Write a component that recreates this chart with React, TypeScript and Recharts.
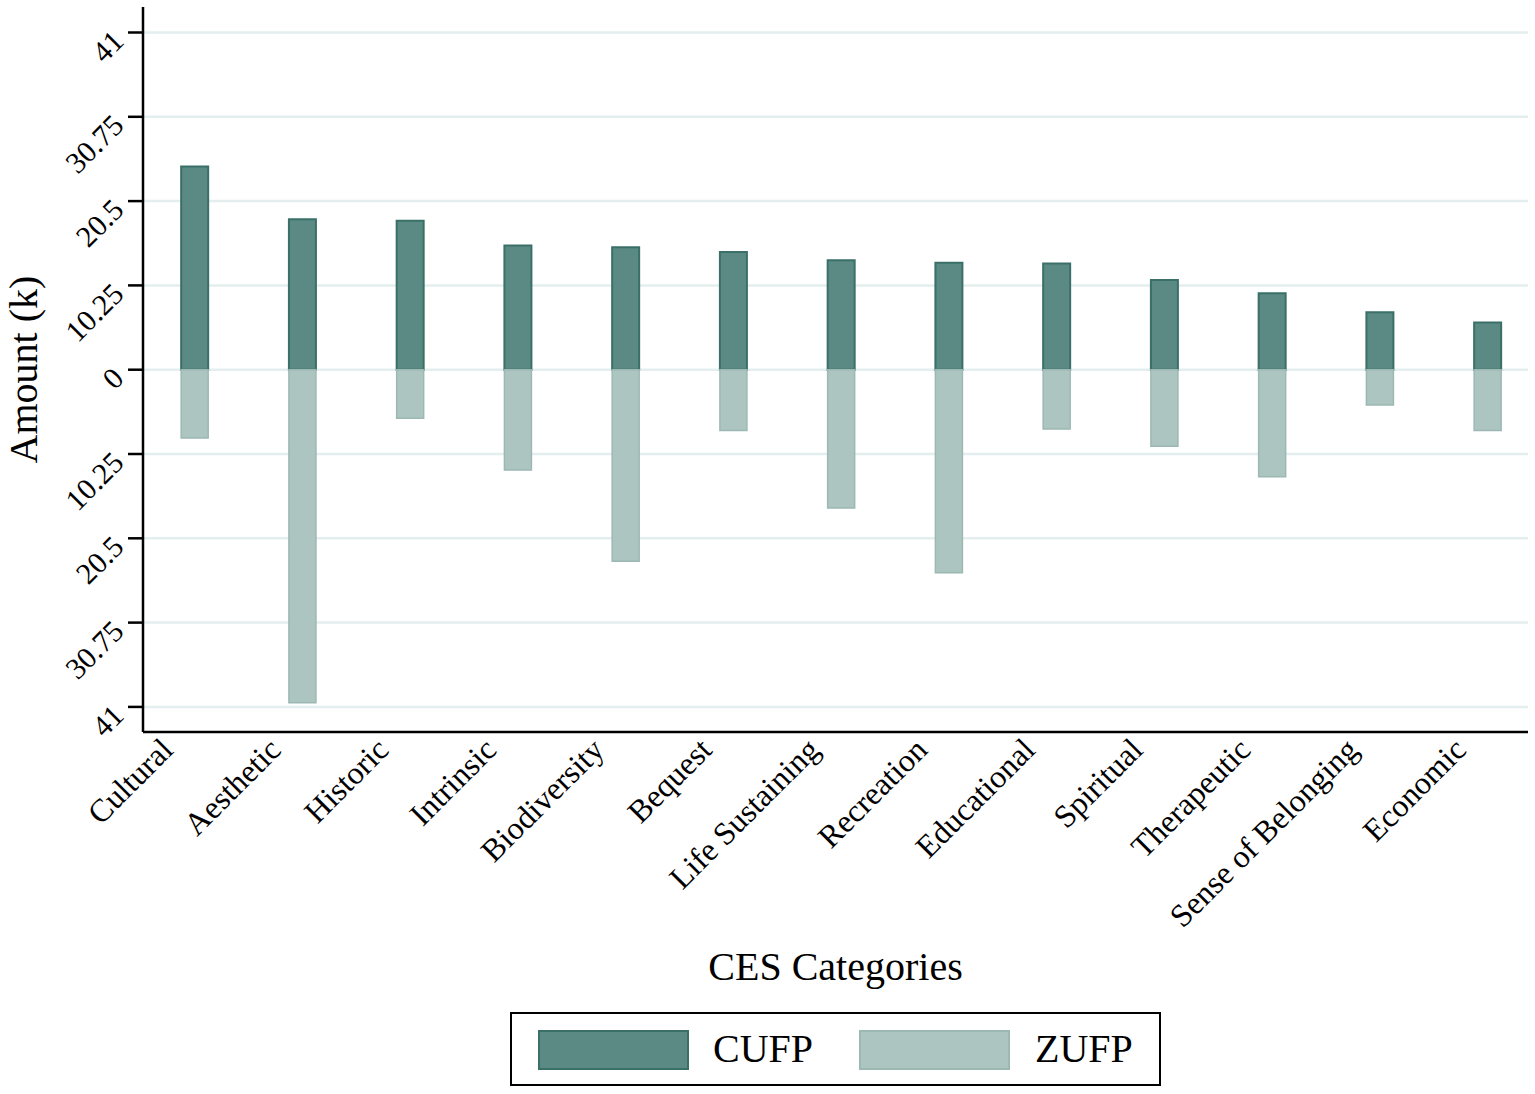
import { BarChart, Bar, XAxis, YAxis, CartesianGrid, Legend, Label } from 'recharts'

const categories = [
  'Cultural',
  'Aesthetic',
  'Historic',
  'Intrinsic',
  'Biodiversity',
  'Bequest',
  'Life Sustaining',
  'Recreation',
  'Educational',
  'Spiritual',
  'Therapeutic',
  'Sense of Belonging',
  'Economic',
]
// CUFP above zero, ZUFP below (thousands)
const cufp = [24.7, 18.3, 18.1, 15.1, 14.9, 14.3, 13.3, 13.0, 12.9, 10.9, 9.3, 7.0, 5.75]
const zufp = [-8.3, -40.5, -5.9, -12.2, -23.3, -7.4, -16.8, -24.7, -7.2, -9.3, -13.0, -4.3, -7.4]
const yTicks = [-41, -30.75, -20.5, -10.25, 0, 10.25, 20.5, 30.75, 41]

const DARK = '#5a8a83'
const DARK_EDGE = '#3a7068'
const LIGHT = '#adc5c1'
const LIGHT_EDGE = '#9cb8b3'
const FONT = '"Liberation Serif", "Times New Roman", serif'

const data = categories.map((name, i) => ({
  idx: i,
  name,
  CUFP: cufp[i],
  ZUFP: zufp[i],
}))

function XTick({ x, y, payload }: any) {
  const tx = x - 28
  const ty = y - 5
  return (
    <text
      x={tx}
      y={ty}
      transform={`rotate(-45, ${tx}, ${ty})`}
      textAnchor="end"
      dominantBaseline="central"
      fontFamily={FONT}
      fontSize={32}
      fill="#000"
    >
      {categories[payload.value]}
    </text>
  )
}

function YTick({ x, y, payload }: any) {
  const tx = x - 10
  const ty = y + 3
  return (
    <text
      x={tx}
      y={ty}
      transform={`rotate(-45, ${tx}, ${ty})`}
      textAnchor="end"
      dominantBaseline="central"
      fontFamily={FONT}
      fontSize={30}
      fill="#000"
    >
      {String(Math.abs(payload.value))}
    </text>
  )
}

function LegendBox() {
  const swatch = (fill: string, edge: string, left: number) => (
    <div
      style={{
        position: 'absolute',
        left,
        top: 16,
        width: 147,
        height: 36,
        background: fill,
        border: `2px solid ${edge}`,
      }}
    />
  )
  const label = (text: string, left: number) => (
    <div
      style={{
        position: 'absolute',
        left,
        top: 11,
        fontFamily: FONT,
        fontSize: 40,
        lineHeight: '48px',
        color: '#000',
      }}
    >
      {text}
    </div>
  )
  return (
    <div
      style={{
        position: 'relative',
        width: 647,
        height: 70,
        border: '2px solid #000',
        background: '#fff',
      }}
    >
      {swatch(DARK, DARK_EDGE, 26)}
      {label('CUFP', 201)}
      {swatch(LIGHT, LIGHT_EDGE, 347)}
      {label('ZUFP', 523)}
    </div>
  )
}

export default function App() {
  return (
    <div style={{ position: 'absolute', left: 0, top: 0, background: '#fff' }}>
      <BarChart
        width={1535}
        height={1094}
        data={data}
        stackOffset="sign"
        margin={{ top: 7, right: 7, left: 0, bottom: 0 }}
      >
        <CartesianGrid
          vertical={false}
          horizontal
          stroke="#e4eeee"
          strokeWidth={2.5}
          horizontalValues={yTicks}
        />
        <XAxis
          dataKey="idx"
          type="number"
          domain={[-0.483, 12.371]}
          allowDataOverflow
          ticks={categories.map((_, i) => i)}
          interval={0}
          tickLine={false}
          tick={<XTick />}
          axisLine={{ stroke: '#000', strokeWidth: 2.5 }}
          height={362}
          tickMargin={11}
        >
          <Label
            value="CES Categories"
            position="insideBottom"
            offset={114}
            fontFamily={FONT}
            fontSize={40}
            fill="#000"
          />
        </XAxis>
        <YAxis
          type="number"
          domain={[-44.05, 44.1]}
          allowDataOverflow
          ticks={yTicks}
          interval={0}
          width={143}
          tickSize={15}
          tickMargin={0}
          tickLine={{ stroke: '#000', strokeWidth: 2.5 }}
          axisLine={{ stroke: '#000', strokeWidth: 2.5 }}
          tick={<YTick />}
        >
          <Label
            value="Amount (k)"
            angle={-90}
            position="insideLeft"
            offset={23}
            fontFamily={FONT}
            fontSize={40}
            fill="#000"
            style={{ textAnchor: 'middle' }}
          />
        </YAxis>
        <Legend
          layout="horizontal"
          verticalAlign="middle"
          align="center"
          wrapperStyle={{ position: 'absolute', left: 510, top: 1012, width: 651, height: 74 }}
          content={() => <LegendBox />}
        />
        <Bar
          dataKey="CUFP"
          stackId="a"
          barSize={27}
          fill={DARK}
          stroke={DARK_EDGE}
          strokeWidth={2}
          isAnimationActive={false}
        />
        <Bar
          dataKey="ZUFP"
          stackId="a"
          barSize={27}
          fill={LIGHT}
          stroke={LIGHT_EDGE}
          strokeWidth={1.5}
          isAnimationActive={false}
        />
      </BarChart>
    </div>
  )
}
